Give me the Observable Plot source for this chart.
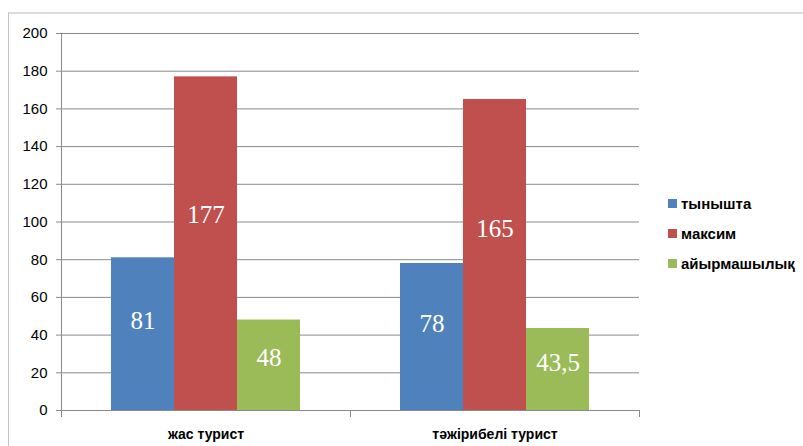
<!DOCTYPE html>
<html><head><meta charset="utf-8">
<script src="https://cdn.jsdelivr.net/npm/d3@7"></script>
<script src="https://cdn.jsdelivr.net/npm/@observablehq/plot@0.6"></script>
<style>
body{margin:0;background:#fff;}
#wrap{position:relative;width:803px;height:446px;overflow:hidden;font-family:"Liberation Sans",Arial,sans-serif;}
#border{position:absolute;left:8px;top:12px;width:900px;height:600px;border-left:1px solid #c4c4c4;border-top:2px solid #dcdcdc;}
#chart{position:absolute;left:0;top:0;}
#legend{position:absolute;left:668px;top:188px;}
.item{display:flex;align-items:center;height:30px;font-weight:bold;font-size:15px;color:#000;}
.sw{width:9px;height:9px;margin-right:4px;}
</style></head>
<body>
<div id="wrap"><div id="border"></div><div id="chart"></div><div id="legend"></div></div>
<script>
const categories = ["жас турист", "тәжірибелі турист"];
const seriesNames = ["тынышта", "максим", "айырмашылық"];
const tynyshta = [81, 78];
const maksim = [177, 165];
const aiyrmashylyk = [48, 43.5];
const yTicks = [0, 20, 40, 60, 80, 100, 120, 140, 160, 180, 200];
const colors = ["#4F81BD", "#C0504D", "#9BBB59"];

const seriesValues = [tynyshta, maksim, aiyrmashylyk];
const rows = categories.flatMap((c, i) => seriesNames.map((s, j) => ({category: c, series: s, value: seriesValues[j][i]})));
const fmt = v => String(v).replace(".", ",");
const gray = "#8a8a8a";

const plot = Plot.plot({
  width: 803, height: 446,
  marginLeft: 61, marginRight: 164, marginTop: 33, marginBottom: 36,
  style: {fontFamily: "Liberation Sans, Arial, sans-serif", background: "transparent", color: "#000"},
  fx: {domain: categories, padding: 0, label: null, axis: null},
  x: {domain: seriesNames, paddingInner: 0, paddingOuter: 0.76, axis: null},
  y: {domain: [0, 200], axis: null},
  color: {domain: seriesNames, range: colors},
  marks: [
    Plot.gridY(yTicks, {stroke: gray, strokeOpacity: 1}),
    Plot.axisY(yTicks, {tickSize: 5, tickPadding: 9, stroke: gray, fontSize: 15, label: null, tickFormat: d => d}),
    Plot.frame({anchor: "left", stroke: gray, facetAnchor: "left"}),
    Plot.frame({anchor: "left", stroke: gray, insetTop: 377, insetBottom: -6}),
    Plot.frame({anchor: "right", stroke: gray, insetTop: 377, insetBottom: -6}),
    Plot.ruleY([0], {stroke: gray}),
    Plot.barY(rows, {fx: "category", x: "series", y: "value", fill: "series"}),
    Plot.text(rows, {fx: "category", x: "series", y: d => d.value * 0.585, text: d => fmt(d.value), fill: "white", fontSize: 25, fontFamily: "Liberation Serif, Times New Roman, serif"}),
    Plot.axisFx({anchor: "bottom", tickSize: 0, tickPadding: 19, fontSize: 14, fontWeight: "bold", label: null})
  ]
});
document.getElementById("chart").appendChild(plot);

const legend = document.getElementById("legend");
seriesNames.forEach((s, j) => {
  const it = document.createElement("div");
  it.className = "item";
  it.innerHTML = `<span class="sw" style="background:${colors[j]}"></span><span>${s}</span>`;
  legend.appendChild(it);
});
</script>
</body></html>
